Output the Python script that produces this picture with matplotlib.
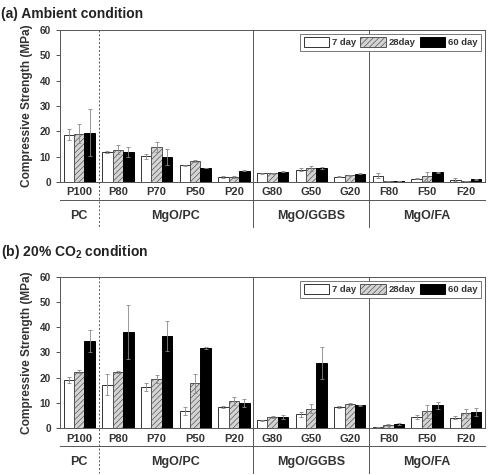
import numpy as np
import matplotlib.pyplot as plt
from matplotlib.patches import Patch

plt.rcParams['font.family'] = 'Liberation Sans'
plt.rcParams['font.weight'] = 'bold'
plt.rcParams['axes.labelweight'] = 'bold'
plt.rcParams['mathtext.fontset'] = 'custom'
plt.rcParams['mathtext.rm'] = 'Liberation Sans:bold'
plt.rcParams['mathtext.bf'] = 'Liberation Sans:bold'
plt.rcParams['hatch.linewidth'] = 0.5

categories = ['P100', 'P80', 'P70', 'P50', 'P20', 'G80', 'G50', 'G20', 'F80', 'F50', 'F20']
groups = ['PC', 'MgO/PC', 'MgO/GGBS', 'MgO/FA']
group_centers = [0, 2.5, 6, 9]
dividers = [0.5, 4.5, 7.5]
series = ['7 day', '28day', '60 day']

# (a) ambient
amb_7 = [18.7, 11.9, 10.2, 6.5, 2.0, 3.4, 4.9, 2.1, 2.4, 1.3, 0.9]
amb_7_err = [2.0, 0.3, 1.0, 0.2, 0.4, 0.2, 0.6, 0.2, 1.0, 0.2, 0.7]
amb_28 = [19.1, 12.7, 13.9, 8.3, 2.0, 3.4, 5.3, 2.6, 0.3, 2.2, 0.3]
amb_28_err = [3.6, 1.8, 1.9, 0.5, 0.4, 0.3, 1.0, 0.3, 0.1, 1.8, 0.1]
amb_60 = [19.4, 11.7, 9.8, 5.5, 4.4, 4.1, 5.5, 3.2, 0.3, 3.8, 1.1]
amb_60_err = [9.2, 2.0, 3.3, 0.1, 0.2, 0.2, 0.4, 0.2, 0.1, 0.2, 0.2]

# (b) 20% CO2
co2_7 = [19.1, 17.2, 16.2, 6.6, 8.3, 3.0, 5.5, 8.2, 0.4, 4.5, 4.0]
co2_7_err = [1.3, 4.3, 1.6, 1.6, 0.3, 0.2, 1.0, 0.4, 0.1, 0.8, 0.6]
co2_28 = [22.4, 22.4, 19.4, 17.8, 10.9, 4.2, 7.7, 9.5, 1.1, 6.6, 5.8]
co2_28_err = [0.6, 0.4, 1.7, 3.8, 1.6, 0.4, 1.7, 0.5, 0.4, 2.5, 1.7]
co2_60 = [34.6, 38.0, 36.5, 31.8, 9.9, 4.5, 25.7, 9.0, 1.7, 9.0, 6.3]
co2_60_err = [4.3, 10.8, 6.1, 0.3, 1.7, 0.8, 6.4, 0.3, 0.4, 1.4, 1.6]

dark = '#333333'
fig = plt.figure(figsize=(4.91, 4.75), dpi=100)


def panel(ax, vals, errs):
    x = np.arange(len(categories))
    w = 0.27
    styles = [dict(color='white', edgecolor=dark, hatch=None),
              dict(color='#d4d4d4', edgecolor='#555555', hatch='//////'),
              dict(color='black', edgecolor='black', hatch=None)]
    handles = []
    for k, (v, e) in enumerate(zip(vals, errs)):
        pos = x + (k - 1) * w
        st = styles[k]
        ax.bar(pos, v, w, facecolor=st['color'], edgecolor=st['edgecolor'],
               hatch=st['hatch'], linewidth=0.7, zorder=2)
        ax.errorbar(pos, v, yerr=e, fmt='none', ecolor='#888888',
                    elinewidth=0.6, capsize=1.2, capthick=0.6, zorder=3)
        handles.append(Patch(facecolor=st['color'], edgecolor=st['edgecolor'],
                             hatch=st['hatch'], linewidth=0.7, label=series[k]))
    ax.set_xlim(-0.5, 10.5)
    ax.set_ylim(0, 60)
    ax.set_yticks(range(0, 61, 10))
    ax.set_xticks(x)
    ax.set_xticklabels(categories, fontsize=8, color=dark)
    ax.tick_params(axis='x', length=0, pad=4)
    ax.tick_params(axis='y', labelsize=7.2, colors=dark, length=3, width=0.6)
    for s in ax.spines.values():
        s.set_color('#555555')
        s.set_linewidth(0.7)
    ax.set_ylabel('Compressive Strength (MPa)', fontsize=8.6, color=dark,
                  fontweight='bold', labelpad=5)
    tr = ax.transAxes
    ax.plot([0, 1], [-0.118, -0.118], transform=tr, color='#555555', lw=0.7, clip_on=False)
    for i, d in enumerate(dividers):
        xd = (d + 0.5) / 11
        ax.plot([xd, xd], [1, -0.296], transform=tr, color='#555555', lw=0.7,
                ls=(0, (2, 2)) if i == 0 else '-', clip_on=False, zorder=1)
    for g, c in zip(groups, group_centers):
        ax.text((c + 0.5) / 11, -0.225, g, transform=tr, ha='center', va='center',
                fontsize=9, color=dark)
    leg = ax.legend(handles=handles, ncol=3, loc='upper right', fontsize=6.8,
                    handlelength=2.7, handleheight=1.1, columnspacing=0.45,
                    handletextpad=0.3, borderpad=0.35, borderaxespad=0.45,
                    fancybox=False, framealpha=1)
    leg.get_frame().set_edgecolor('#777777')
    leg.get_frame().set_linewidth(0.7)
    leg.set_zorder(5)
    for t in leg.get_texts():
        t.set_color(dark)


ax1 = fig.add_axes([0.122, 0.617, 0.866, 0.32])
panel(ax1, [amb_7, amb_28, amb_60], [amb_7_err, amb_28_err, amb_60_err])
ax2 = fig.add_axes([0.122, 0.099, 0.866, 0.318])
panel(ax2, [co2_7, co2_28, co2_60], [co2_7_err, co2_28_err, co2_60_err])

fig.text(0.002, 1 - 14 / 475, '(a) Ambient condition', fontsize=10, color='#222222', va='center')
fig.text(0.002, 1 - 252 / 475, r'(b) 20% CO$_{2}$ condition', fontsize=10, color='#222222', va='center')

fig.savefig('out.png', dpi=100)
